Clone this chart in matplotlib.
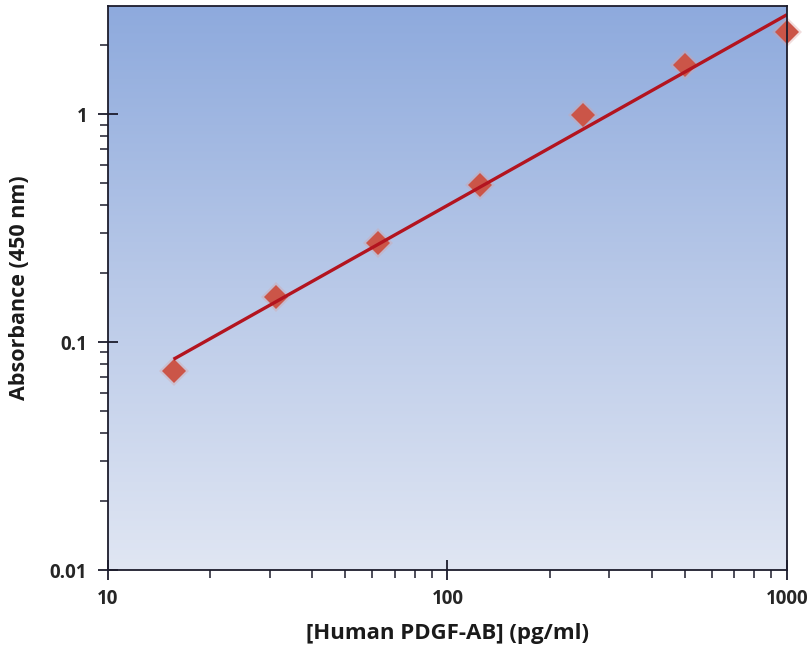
import numpy as np
import matplotlib
matplotlib.use("Agg")
import matplotlib.pyplot as plt
from matplotlib.ticker import FixedLocator, FixedFormatter, LogLocator, NullFormatter
from matplotlib.colors import LinearSegmentedColormap

# Data
concentration = [15.6, 31.25, 62.5, 125, 250, 500, 1000]
absorbance = [0.075, 0.157, 0.272, 0.488, 0.99, 1.64, 2.29]
x_ticks = [10, 100, 1000]
x_tick_labels = ["10", "100", "1000"]
y_ticks = [0.01, 0.1, 1]
y_tick_labels = ["0.01", "0.1", "1"]
x_label = "[Human PDGF-AB] (pg/ml)"
y_label = "Absorbance (450 nm)"

fig = plt.figure(figsize=(8.12, 6.56), dpi=100)
ax = fig.add_axes([108/812, 86/656, (787-108)/812, (570-6)/656])
ax.set_xscale("log")
ax.set_yscale("log")
ax.set_xlim(10, 1000)
ax.set_ylim(0.01, 2.98)

# gradient background
cmap = LinearSegmentedColormap.from_list("bg", ["#e0e6f3", "#b9c9e8", "#8eaadd"])
grad = np.linspace(0, 1, 256).reshape(-1, 1)
ax.imshow(grad, cmap=cmap, aspect="auto", extent=[0, 1, 0, 1],
          transform=ax.transAxes, origin="lower", zorder=0)

# fit line (log-log linear regression)
lx = np.log10(concentration)
ly = np.log10(absorbance)
slope, intercept = np.polyfit(lx, ly, 1)
xf = np.array([concentration[0], concentration[-1]])
yf = 10 ** (intercept + slope * np.log10(xf))

# markers with soft shadow
ax.plot(concentration, absorbance, linestyle="none", marker="D", markersize=15,
        color="#d9a0a0", alpha=0.35, markeredgewidth=0, zorder=2, clip_on=False)
ax.plot(concentration, absorbance, linestyle="none", marker="D", markersize=12.5,
        color="#cb5548", markeredgewidth=0, zorder=3, clip_on=False)
ax.plot(xf, yf, color="#b3141f", linewidth=2.4, zorder=4, solid_capstyle="butt")

for s in ax.spines.values():
    s.set_color("#1c1c2c")
    s.set_linewidth(1.3)
    s.set_zorder(5)

ax.xaxis.set_major_locator(FixedLocator(x_ticks))
ax.xaxis.set_major_formatter(FixedFormatter(x_tick_labels))
ax.yaxis.set_major_locator(FixedLocator(y_ticks))
ax.yaxis.set_major_formatter(FixedFormatter(y_tick_labels))
ax.xaxis.set_minor_locator(LogLocator(base=10, subs=np.arange(2, 10)))
ax.yaxis.set_minor_locator(LogLocator(base=10, subs=np.arange(2, 10)))
ax.xaxis.set_minor_formatter(NullFormatter())
ax.yaxis.set_minor_formatter(NullFormatter())

ax.tick_params(which="major", direction="inout", length=14, width=1.3, color="#1c1c2c",
               labelsize=13.5, labelcolor="#262626")
ax.tick_params(axis="x", which="major", pad=7)
ax.tick_params(axis="y", which="major", pad=8)
ax.tick_params(which="minor", direction="out", length=6, width=1.1, color="#1c1c2c")
for lab in ax.get_xticklabels() + ax.get_yticklabels():
    lab.set_fontfamily("Open Sans")
    lab.set_fontweight("bold")

ax.set_xlabel(x_label, fontsize=16, fontweight="bold", family="Open Sans",
              color="#1a1a1a", labelpad=10)
ax.set_ylabel(y_label, fontsize=15.5, fontweight="bold", family="Open Sans",
              color="#1a1a1a", labelpad=14)

fig.savefig("out.png", dpi=100)
